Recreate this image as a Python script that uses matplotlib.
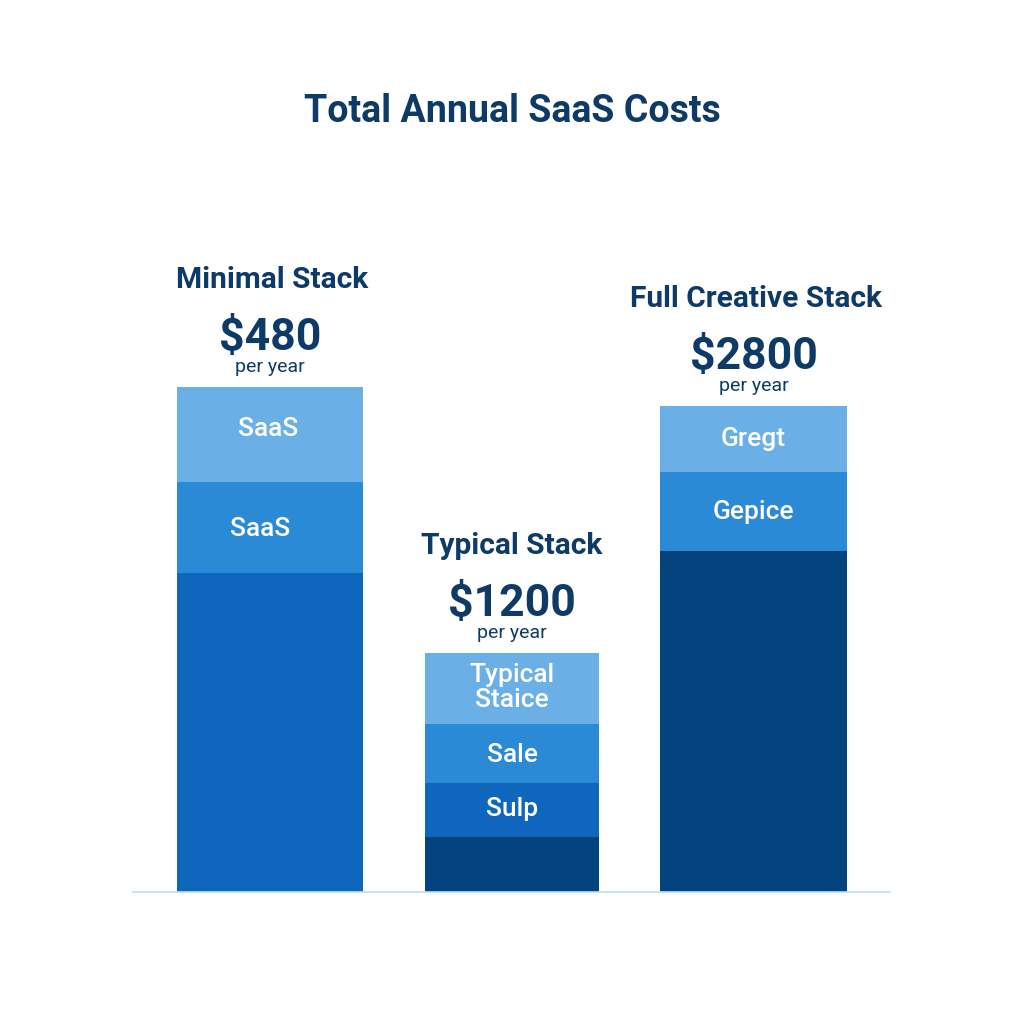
import matplotlib.pyplot as plt

# Stacks (segment heights in chart units, bottom -> top)
stack_names = ['Minimal Stack', 'Typical Stack', 'Full Creative Stack']
stack_totals = ['$480', '$1200', '$2800']
minimal_segments = [319, 91, 95]
typical_segments = [55, 54, 59, 71]
full_segments = [341, 79, 66]
minimal_labels = ['', 'SaaS', 'SaaS']
typical_labels = ['', 'Sulp', 'Sale', 'Typical\nStaice']
full_labels = ['', 'Gepice', 'Gregt']

NAVY = '#05437F'
DARK = '#0F67BD'
MID = '#2A8AD6'
LIGHT = '#6AB0E6'
TEXT = '#0D3A66'

minimal_colors = [DARK, MID, LIGHT]
typical_colors = [NAVY, DARK, MID, LIGHT]
full_colors = [NAVY, MID, LIGHT]

plt.rcParams['font.family'] = ['Roboto', 'DejaVu Sans']

fig = plt.figure(figsize=(10.24, 10.24), dpi=100)
ax = fig.add_axes([0, 0, 1, 1])
ax.set_xlim(0, 1024)
ax.set_ylim(-132, 892)
ax.axis('off')

centers = [270, 512, 753.5]
widths = [186, 174, 187]
segments = [minimal_segments, typical_segments, full_segments]
labels = [minimal_labels, typical_labels, full_labels]
colors = [minimal_colors, typical_colors, full_colors]
# small nudges so the inner labels sit where they do in the original
label_dx = [[0, -10, -2], [0, 0, 0, 0], [0, 0, 0]]
label_dy = [[0, -1, 5], [0, 1, -1, 1], [0, -1, 0]]
name_dx = [2, 0, 2]

for i in range(3):
    bottom = 0
    for j, h in enumerate(segments[i]):
        ax.bar(centers[i], h, width=widths[i], bottom=bottom,
               color=colors[i][j], edgecolor='none')
        if labels[i][j]:
            ax.text(centers[i] + label_dx[i][j], bottom + h / 2 + label_dy[i][j], labels[i][j],
                    ha='center', va='center', color='white',
                    fontsize=19, fontweight='medium', linespacing=1.1)
        bottom += h
    top = bottom
    ax.text(centers[i], top + 20, 'per year', ha='center', va='center',
            fontsize=14, color=TEXT)
    ax.text(centers[i], top + 49, stack_totals[i], ha='center', va='center',
            fontsize=32, fontweight='bold', color=TEXT)
    ax.text(centers[i] + name_dx[i], top + 107, stack_names[i], ha='center', va='center',
            fontsize=21.5, fontweight='bold', color=TEXT)

# baseline
ax.plot([133, 890], [0, 0], color='#BFDDF2', linewidth=1.2)

fig.text(0.5, 1 - 112 / 1024, 'Total Annual SaaS Costs', ha='center', va='center',
         fontsize=27, fontweight='bold', color=TEXT)

fig.savefig('out.png', dpi=100, facecolor='white')
